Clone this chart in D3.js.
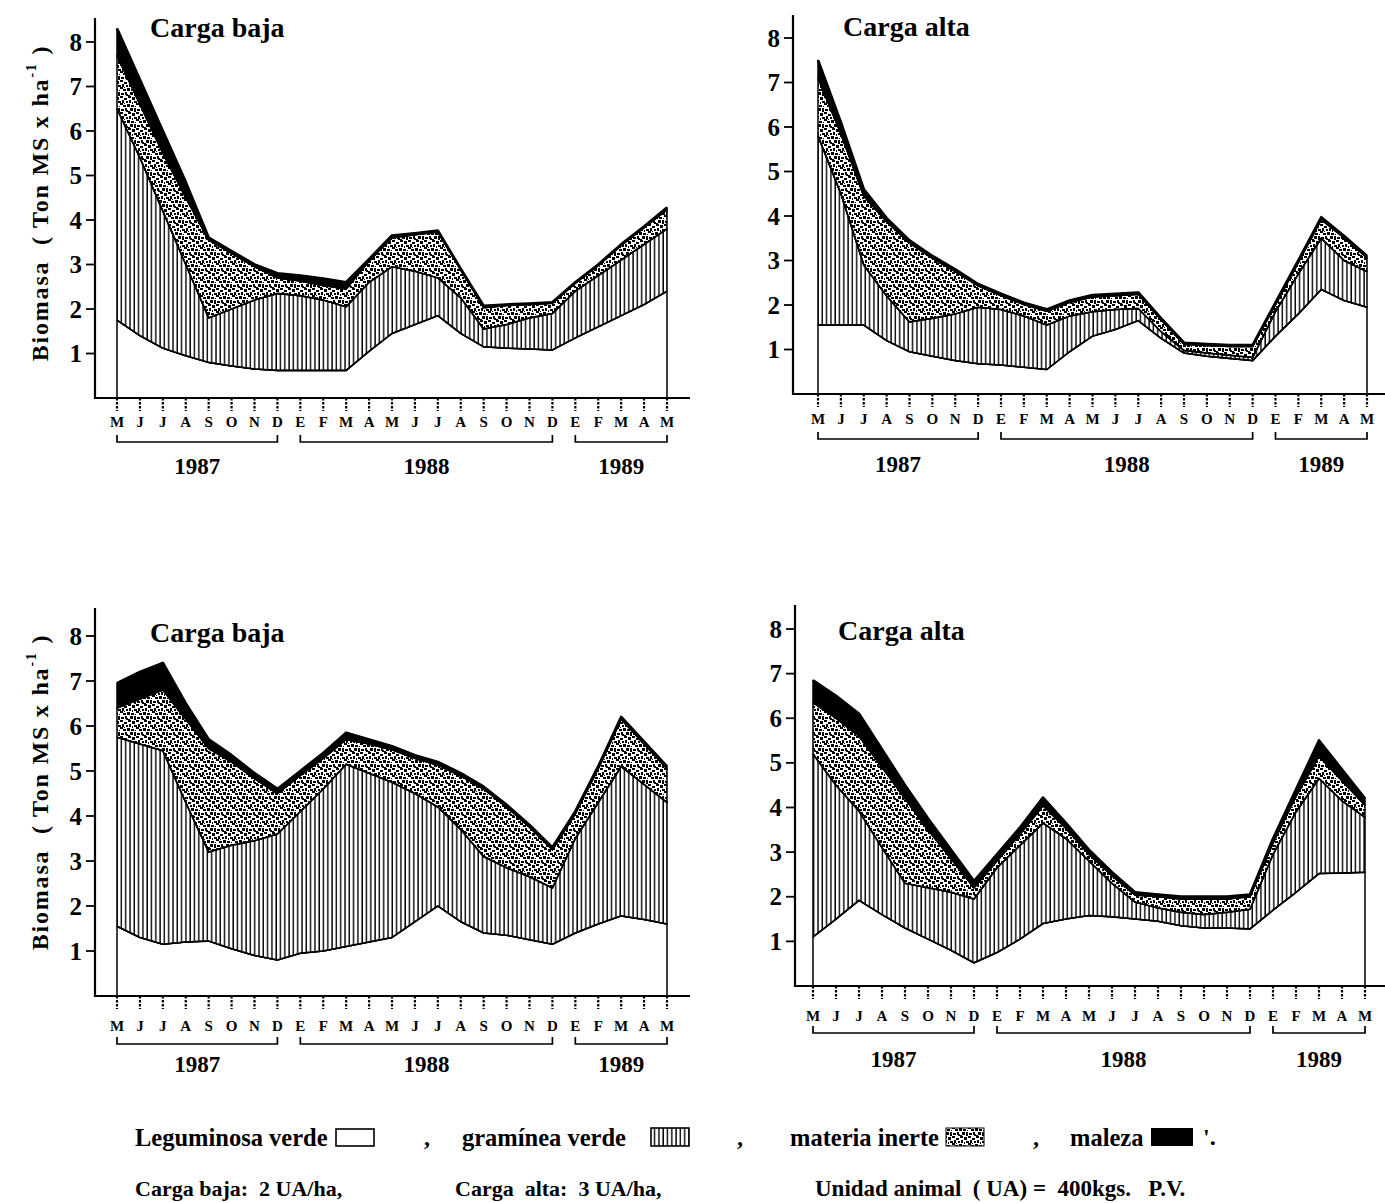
<!DOCTYPE html>
<html><head><meta charset="utf-8">
<script src="https://cdn.jsdelivr.net/npm/d3@7/dist/d3.min.js"></script>
<style>
html,body{margin:0;padding:0;background:#fff;}
svg text{font-family:"Liberation Serif","Times New Roman",serif;font-weight:bold;fill:#000;}
</style></head>
<body>
<svg id="c" width="1385" height="1203"></svg>
<script>
// ---------- DATA ----------
const months = ["M","J","J","A","S","O","N","D","E","F","M","A","M","J","J","A","S","O","N","D","E","F","M","A","M"];
const yearLabels = ["1987","1988","1989"];
const yearStart = [0, 8, 20];
const yearEnd = [7, 19, 24];
const yTicks = [1,2,3,4,5,6,7,8];
const layerNames = ["Leguminosa verde","gramínea verde","materia inerte","maleza"];

// Panel A: Carga baja (top)
const aLeguminosa = [1.75,1.4,1.12,0.95,0.8,0.72,0.65,0.62,0.62,0.62,0.62,1.05,1.45,1.65,1.85,1.45,1.15,1.12,1.1,1.08,1.35,1.6,1.85,2.1,2.4];
const aGraminea   = [4.75,4.0,3.08,2.05,1.0,1.28,1.55,1.73,1.68,1.58,1.43,1.55,1.5,1.2,0.85,0.8,0.4,0.53,0.7,0.82,1.05,1.15,1.25,1.35,1.4];
const aInerte     = [1.2,1.2,1.3,1.5,1.75,1.25,0.75,0.35,0.33,0.33,0.4,0.48,0.65,0.82,1.03,0.63,0.48,0.43,0.3,0.23,0.18,0.23,0.33,0.38,0.43];
const aMaleza     = [0.6,0.55,0.5,0.35,0.05,0.05,0.05,0.1,0.12,0.15,0.15,0.04,0.05,0.03,0.03,0.02,0.04,0.02,0.02,0.02,0.02,0.02,0.02,0.02,0.05];

// Panel B: Carga alta (top)
const bLeguminosa = [1.55,1.55,1.55,1.2,0.95,0.85,0.75,0.68,0.65,0.6,0.55,0.95,1.3,1.45,1.65,1.25,0.92,0.85,0.8,0.75,1.3,1.8,2.35,2.1,1.95];
const bGraminea   = [4.25,2.95,1.35,1.0,0.67,0.85,1.05,1.27,1.25,1.15,1.0,0.8,0.55,0.45,0.27,0.15,0.06,0.07,0.07,0.07,0.55,0.9,1.15,0.9,0.8];
const bInerte     = [1.3,1.35,1.55,1.67,1.77,1.35,0.95,0.48,0.31,0.26,0.31,0.31,0.33,0.31,0.32,0.27,0.14,0.17,0.2,0.25,0.16,0.26,0.42,0.51,0.31];
const bMaleza     = [0.4,0.25,0.15,0.08,0.06,0.05,0.05,0.04,0.04,0.04,0.04,0.04,0.04,0.04,0.04,0.03,0.03,0.03,0.03,0.03,0.04,0.04,0.05,0.04,0.04];

// Panel C: Carga baja (bottom)
const cLeguminosa = [1.55,1.3,1.15,1.2,1.22,1.05,0.9,0.8,0.95,1.0,1.1,1.2,1.3,1.65,2.0,1.65,1.4,1.35,1.25,1.15,1.4,1.6,1.78,1.7,1.6];
const cGraminea   = [4.2,4.3,4.3,3.1,1.98,2.3,2.55,2.8,3.15,3.6,4.05,3.75,3.45,2.85,2.2,2.05,1.7,1.5,1.4,1.25,2.1,2.7,3.32,3.0,2.7];
const cInerte     = [0.65,1.0,1.35,1.85,2.3,1.85,1.38,0.9,0.8,0.68,0.55,0.65,0.72,0.78,0.93,1.19,1.5,1.35,1.1,0.85,0.55,0.75,1.05,0.9,0.75];
const cMaleza     = [0.55,0.6,0.6,0.35,0.2,0.15,0.12,0.1,0.1,0.12,0.15,0.1,0.08,0.07,0.07,0.06,0.05,0.05,0.05,0.05,0.05,0.05,0.05,0.05,0.05];

// Panel D: Carga alta (bottom)
const dLeguminosa = [1.1,1.5,1.92,1.6,1.3,1.05,0.8,0.52,0.75,1.05,1.4,1.5,1.58,1.55,1.5,1.45,1.35,1.3,1.3,1.28,1.7,2.1,2.52,2.53,2.55];
const dGraminea   = [4.1,3.0,2.0,1.5,1.0,1.15,1.3,1.43,1.9,2.1,2.25,1.8,1.22,0.75,0.38,0.3,0.3,0.3,0.35,0.44,1.25,1.8,2.13,1.62,1.23];
const dInerte     = [1.15,1.5,1.68,1.8,1.9,1.3,0.75,0.25,0.15,0.25,0.39,0.23,0.15,0.17,0.16,0.25,0.3,0.35,0.3,0.28,0.25,0.35,0.5,0.45,0.27];
const dMaleza     = [0.5,0.5,0.5,0.4,0.3,0.25,0.2,0.15,0.15,0.15,0.18,0.12,0.1,0.08,0.06,0.05,0.05,0.05,0.05,0.05,0.1,0.15,0.35,0.25,0.15];

// ---------- LAYOUT ----------
const panels = [
  {title:"Carga baja", series:[aLeguminosa,aGraminea,aInerte,aMaleza], axisX:95, axisTop:18, xAxisY:398, y0:398, y8:42, xFirst:117, xLast:667, axisRight:690, monthY:422, bracketY:442, yearY:466, titleX:150, titleY:27, ylabel:true, ylabelY:203},
  {title:"Carga alta", series:[bLeguminosa,bGraminea,bInerte,bMaleza], axisX:793, axisTop:15, xAxisY:394, y0:394, y8:38, xFirst:818, xLast:1367, axisRight:1385, monthY:419, bracketY:439, yearY:464, titleX:843, titleY:26, ylabel:false},
  {title:"Carga baja", series:[cLeguminosa,cGraminea,cInerte,cMaleza], axisX:95, axisTop:608, xAxisY:996, y0:996, y8:636, xFirst:117, xLast:667, axisRight:690, monthY:1026, bracketY:1044, yearY:1064, titleX:150, titleY:632, ylabel:true, ylabelY:792},
  {title:"Carga alta", series:[dLeguminosa,dGraminea,dInerte,dMaleza], axisX:795, axisTop:605, xAxisY:986, y0:986, y8:629, xFirst:813, xLast:1365, axisRight:1385, monthY:1016, bracketY:1033, yearY:1059, titleX:838, titleY:630, ylabel:false}
];

const svg = d3.select("#c");
const defs = svg.append("defs");

// vertical hatch pattern
const ph = defs.append("pattern").attr("id","hatch").attr("patternUnits","userSpaceOnUse").attr("width",4.3).attr("height",10);
ph.append("rect").attr("width",4.3).attr("height",10).attr("fill","#fff");
ph.append("line").attr("x1",1).attr("x2",1).attr("y1",0).attr("y2",10).attr("stroke","#000").attr("stroke-width",1.4);

// stipple pattern (fixed speckle texture)
const specks = [[0,0,3,2],[4,1,3,3],[8,0,3,2],[12,2,3,2],[1,4,2,3],[6,5,3,2],[10,4,2,3],[14,5,2,2],[0,8,2,3],[3,9,3,2],[8,7,3,2],[11,9,3,2],[15,8,1,3],[2,12,3,3],[6,12,2,3],[9,13,3,2],[13,12,2,3],[5,3,1,1],[12,7,1,1],[7,10,1,1],[4,6,1,2],[14,14,2,2],[0,15,2,1],[10,0,1,1],[6,15,2,1]];
const ps = defs.append("pattern").attr("id","stipple").attr("patternUnits","userSpaceOnUse").attr("width",16).attr("height",16);
ps.append("rect").attr("width",16).attr("height",16).attr("fill","#fff");
specks.forEach(s=>ps.append("rect").attr("x",s[0]).attr("y",s[1]).attr("width",s[2]).attr("height",s[3]).attr("fill","#000"));

const fills = ["#ffffff","url(#hatch)","url(#stipple)","#000000"];

panels.forEach(p=>{
  const g = svg.append("g");
  const x = d3.scalePoint().domain(d3.range(months.length)).range([p.xFirst,p.xLast]);
  const y = d3.scaleLinear().domain([0,8]).range([p.y0,p.y8]);

  const table = months.map((m,i)=>{const o={i}; layerNames.forEach((k,j)=>o[k]=p.series[j][i]); return o;});
  const stacked = d3.stack().keys(layerNames)(table);
  const area = d3.area().x(d=>x(d.data.i)).y0(d=>y(d[0])).y1(d=>y(d[1]));
  const top = d3.line().x(d=>x(d.data.i)).y(d=>y(d[1]));

  stacked.forEach((s,j)=>{
    g.append("path").attr("d",area(s)).attr("fill",fills[j]).attr("stroke","#000").attr("stroke-width",1.5).attr("stroke-linejoin","round");
  });
  g.append("path").attr("d",top(stacked[3])).attr("fill","none").attr("stroke","#000").attr("stroke-width",2.8).attr("stroke-linejoin","round");
  [0,1,2].forEach(j=>g.append("path").attr("d",top(stacked[j])).attr("fill","none").attr("stroke","#000").attr("stroke-width",1.6));

  // axes
  g.append("line").attr("x1",p.axisX).attr("x2",p.axisX).attr("y1",p.axisTop).attr("y2",p.xAxisY+1).attr("stroke","#000").attr("stroke-width",2.2);
  g.append("line").attr("x1",p.axisX).attr("x2",p.axisRight).attr("y1",p.xAxisY).attr("y2",p.xAxisY).attr("stroke","#000").attr("stroke-width",2.2);

  // y ticks
  const yt = g.selectAll(".yt").data(yTicks).enter().append("g").attr("transform",d=>`translate(0,${y(d)})`);
  yt.append("line").attr("x1",p.axisX-9).attr("x2",p.axisX).attr("stroke","#000").attr("stroke-width",1.8);
  yt.append("text").attr("x",p.axisX-13).attr("text-anchor","end").attr("dominant-baseline","central").attr("font-size",25).text(d=>d);

  // month ticks and labels
  const mt = g.selectAll(".mt").data(months).enter().append("g").attr("transform",(d,i)=>`translate(${x(i)},0)`);
  mt.append("line").attr("y1",p.xAxisY).attr("y2",p.xAxisY+13).attr("stroke","#000").attr("stroke-width",2.2).attr("stroke-dasharray","2.5,1.5");
  mt.append("text").attr("y",p.monthY).attr("text-anchor","middle").attr("dominant-baseline","central").attr("font-size",15).text(d=>d);

  // year brackets
  yearLabels.forEach((lab,k)=>{
    const xa = x(yearStart[k]), xb = x(yearEnd[k]);
    g.append("path").attr("d",`M${xa},${p.bracketY-7}V${p.bracketY}H${xb}V${p.bracketY-7}`).attr("fill","none").attr("stroke","#000").attr("stroke-width",1.7);
    g.append("text").attr("x",(xa+xb)/2).attr("y",p.yearY).attr("text-anchor","middle").attr("dominant-baseline","central").attr("font-size",23).text(lab);
  });

  // title
  g.append("text").attr("x",p.titleX).attr("y",p.titleY).attr("dominant-baseline","central").attr("font-size",28).text(p.title);

  if(p.ylabel){
    const t = g.append("text").attr("transform",`translate(40,${p.ylabelY}) rotate(-90)`).attr("text-anchor","middle").attr("dominant-baseline","central").attr("font-size",24).attr("letter-spacing",1.8).style("white-space","pre");
    t.append("tspan").text("Biomasa  ( Ton MS x ha");
    t.append("tspan").attr("font-size",14).attr("dy",-9).text("-1");
    t.append("tspan").attr("dy",9).text(" )");
  }
});

// ---------- LEGEND ----------
const lg = svg.append("g");
const row1 = 1137, row2 = 1188;
function txt(x,y,s,fs){ lg.append("text").attr("x",x).attr("y",y).attr("dominant-baseline","central").attr("font-size",fs).style("white-space","pre").text(s); }
txt(135,row1,layerNames[0],24.5);
lg.append("rect").attr("x",336).attr("y",row1-8).attr("width",38).attr("height",17).attr("fill","#fff").attr("stroke","#000").attr("stroke-width",1.6);
txt(424,row1,",",24);
txt(462,row1,layerNames[1],24.5);
lg.append("rect").attr("x",651).attr("y",row1-9).attr("width",38).attr("height",18).attr("fill","url(#hatch)").attr("stroke","#000").attr("stroke-width",1.6);
txt(737,row1,",",24);
txt(790,row1,layerNames[2],24.5);
lg.append("rect").attr("x",946).attr("y",row1-9).attr("width",38).attr("height",18).attr("fill","url(#stipple)").attr("stroke","#000").attr("stroke-width",1);
txt(1033,row1,",",24);
txt(1070,row1,layerNames[3],24.5);
lg.append("rect").attr("x",1151).attr("y",row1-9).attr("width",42).attr("height",18).attr("fill","#000");
txt(1203,row1,"'.",24);

txt(135,row2,"Carga baja:  2 UA/ha,",22);
txt(455,row2,"Carga  alta:  3 UA/ha,",22);
txt(815,row2,"Unidad animal  ( UA) =  400kgs.   P.V.",23);
</script>
</body></html>
